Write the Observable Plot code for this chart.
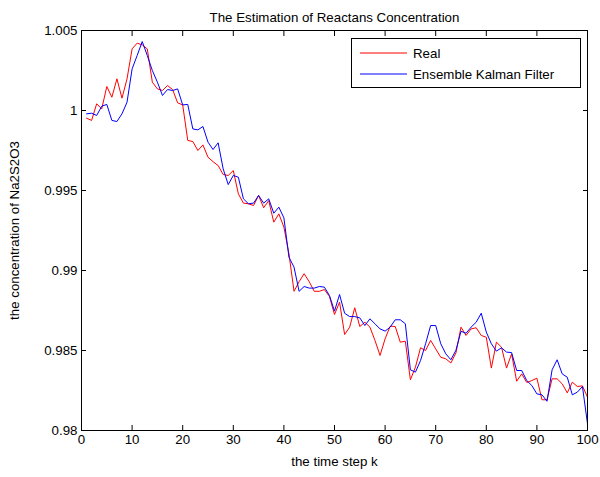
<!DOCTYPE html>
<html>
<head>
<meta charset="utf-8">
<script src="https://cdn.jsdelivr.net/npm/d3@7"></script>
<script src="https://cdn.jsdelivr.net/npm/@observablehq/plot@0.6"></script>
<style>
  html, body { margin: 0; padding: 0; background: #fff; }
  #wrap { position: relative; width: 600px; height: 477px; font-family: "Liberation Sans", Arial, sans-serif; }
  #legend {
    position: absolute; left: 351px; top: 38px; width: 228px; height: 48px;
    border: 1px solid #000; background: #fff; font-size: 13.3px; color: #000;
  }
  .row { position: absolute; left: 8px; height: 20px; display: flex; align-items: center; }
  .row svg { margin-right: 6px; }
</style>
</head>
<body>
<div id="wrap"></div>
<script>
// Concentration of Na2S2O3 per time step k = 1..100
const real = [
  0.99952, 0.99938, 1.00042, 1.00010, 1.00150, 1.00083, 1.00198, 1.00077, 1.00198, 1.00385,
  1.00421, 1.00410, 1.00385, 1.00177, 1.00135, 1.00125, 1.00156, 1.00131, 1.00048, 1.00035,
  0.99813, 0.99806, 0.99750, 0.99785, 0.99708, 0.99680, 0.99656, 0.99600, 0.99594, 0.99625,
  0.99479, 0.99421, 0.99417, 0.99406, 0.99469, 0.99392, 0.99437, 0.99302, 0.99354, 0.99271,
  0.99104, 0.98870, 0.98930, 0.98980, 0.98930, 0.98870, 0.98870, 0.98881, 0.98838, 0.98725,
  0.98802, 0.98600, 0.98646, 0.98767, 0.98650, 0.98677, 0.98646, 0.98563, 0.98469, 0.98573,
  0.98652, 0.98650, 0.98552, 0.98558, 0.98317, 0.98396, 0.98517, 0.98500, 0.98563, 0.98510,
  0.98458, 0.98448, 0.98422, 0.98485, 0.98646, 0.98594, 0.98635, 0.98642, 0.98594, 0.98583,
  0.98390, 0.98552, 0.98521, 0.98390, 0.98479, 0.98308, 0.98354, 0.98300, 0.98312, 0.98327,
  0.98192, 0.98192, 0.98323, 0.98323, 0.98292, 0.98235, 0.98302, 0.98275, 0.98279, 0.98208
];
const enkf = [
  0.99979, 0.99983, 0.99969, 1.00027, 1.00038, 0.99938, 0.99931, 0.99979, 1.00052, 1.00260,
  1.00344, 1.00431, 1.00344, 1.00250, 1.00177, 1.00094, 1.00131, 1.00125, 1.00135, 1.00035,
  1.00038, 0.99885, 0.99879, 0.99900, 0.99802, 0.99756, 0.99798, 0.99635, 0.99537, 0.99594,
  0.99583, 0.99448, 0.99417, 0.99421, 0.99469, 0.99421, 0.99448, 0.99358, 0.99396, 0.99329,
  0.99083, 0.99021, 0.98870, 0.98900, 0.98890, 0.98890, 0.98900, 0.98896, 0.98844, 0.98746,
  0.98850, 0.98733, 0.98712, 0.98712, 0.98704, 0.98656, 0.98698, 0.98667, 0.98635, 0.98621,
  0.98646, 0.98692, 0.98692, 0.98667, 0.98379, 0.98365, 0.98437, 0.98542, 0.98656, 0.98656,
  0.98542, 0.98479, 0.98442, 0.98502, 0.98620, 0.98608, 0.98646, 0.98677, 0.98733, 0.98615,
  0.98542, 0.98496, 0.98517, 0.98490, 0.98487, 0.98375, 0.98375, 0.98312, 0.98281, 0.98229,
  0.98223, 0.98183, 0.98379, 0.98442, 0.98354, 0.98333, 0.98223, 0.98240, 0.98275, 0.98042
];
const seriesNames = ["Real", "Ensemble Kalman Filter"];
const seriesColors = ["#ff0000", "#0000ff"];
const xTicks = [0, 10, 20, 30, 40, 50, 60, 70, 80, 90, 100];
const yTicks = [0.98, 0.985, 0.99, 0.995, 1, 1.005];
const titleText = "The Estimation of Reactans Concentration";
const xLabel = "the time step k";
const yLabel = "the concentration of Na2S2O3";

const rows = [
  ...real.map((v, i) => ({k: i + 1, value: v, series: seriesNames[0]})),
  ...enkf.map((v, i) => ({k: i + 1, value: v, series: seriesNames[1]}))
];
const fmtY = d => String(+d.toFixed(3));
const none = () => "";

const chart = Plot.plot({
  width: 600,
  height: 477,
  marginTop: 30,
  marginBottom: 47,
  marginLeft: 81,
  marginRight: 13,
  style: {fontFamily: "'Liberation Sans', Arial, sans-serif", fontSize: "13.3px", color: "#000", background: "#fff"},
  x: {domain: [0, 100]},
  y: {domain: [0.98, 1.005]},
  color: {domain: seriesNames, range: seriesColors},
  marks: [
    Plot.axisX({anchor: "bottom", ticks: xTicks, tickSize: -5, tickPadding: 9, label: null, fontSize: "13.3px"}),
    Plot.axisX({anchor: "top", ticks: xTicks, tickSize: -5, tickFormat: none, label: null}),
    Plot.axisY({anchor: "left", ticks: yTicks, tickSize: -5, tickPadding: 9, tickFormat: fmtY, label: null, fontSize: "13.3px"}),
    Plot.axisY({anchor: "right", ticks: yTicks, tickSize: -5, tickFormat: none, label: null}),
    Plot.line(rows, {x: "k", y: "value", z: "series", stroke: "series", strokeWidth: 1}),
    Plot.frame({stroke: "#000", strokeWidth: 1}),
    Plot.text([titleText], {frameAnchor: "top", dy: -18, fontSize: 13.3}),
    Plot.text([xLabel], {frameAnchor: "bottom", dy: 35, fontSize: 13.3}),
    Plot.text([yLabel], {frameAnchor: "left", textAnchor: "middle", dx: -67, rotate: -90, fontSize: 13.3})
  ]
});

const wrap = document.getElementById("wrap");
wrap.appendChild(chart);

// Legend box in the upper right of the plot area
const legend = document.createElement("div");
legend.id = "legend";
seriesNames.forEach((name, i) => {
  const row = document.createElement("div");
  row.className = "row";
  row.style.top = (4 + i * 21) + "px";
  row.innerHTML = `<svg width="47" height="4"><line x1="0" y1="2" x2="47" y2="2" stroke="${seriesColors[i]}" stroke-width="1"/></svg><span>${name}</span>`;
  legend.appendChild(row);
});
wrap.appendChild(legend);
</script>
</body>
</html>
